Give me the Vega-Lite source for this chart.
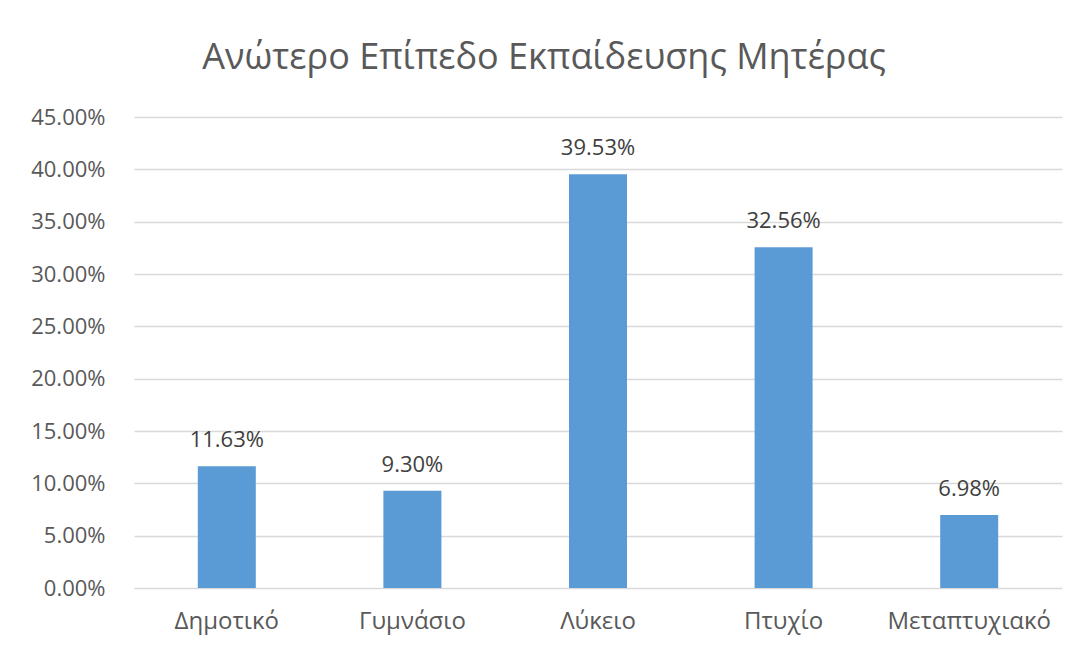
{
  "$schema": "https://vega.github.io/schema/vega-lite/v6.json",
  "width": 928,
  "height": 471,
  "autosize": "none",
  "padding": {"left": 134, "top": 117, "right": 27, "bottom": 67},
  "background": "white",
  "title": {
    "text": "Ανώτερο Επίπεδο Εκπαίδευσης Μητέρας",
    "font": "Open Sans",
    "fontSize": 36,
    "fontWeight": "normal",
    "color": "#595959",
    "anchor": "middle",
    "dx": -54,
    "offset": 29
  },
  "data": {
    "values": [
      {"level": "Δημοτικό", "pct": 0.1163},
      {"level": "Γυμνάσιο", "pct": 0.093},
      {"level": "Λύκειο", "pct": 0.3953},
      {"level": "Πτυχίο", "pct": 0.3256},
      {"level": "Μεταπτυχιακό", "pct": 0.0698}
    ]
  },
  "config": {
    "view": {"stroke": null},
    "font": "Open Sans"
  },
  "encoding": {
    "x": {
      "field": "level",
      "type": "nominal",
      "sort": null,
      "scale": {"paddingInner": 0, "paddingOuter": 0},
      "axis": {
        "title": null,
        "labelAngle": 0,
        "labelFont": "Open Sans",
        "labelFontSize": 24,
        "labelColor": "#595959",
        "labelPadding": 21,
        "ticks": false,
        "domain": false,
        "grid": false
      }
    },
    "y": {
      "field": "pct",
      "type": "quantitative",
      "scale": {"domain": [0, 0.45], "nice": false},
      "axis": {
        "title": null,
        "format": ".2%",
        "values": [0, 0.05, 0.1, 0.15, 0.2, 0.25, 0.3, 0.35, 0.4, 0.45],
        "labelFont": "Open Sans",
        "labelFontSize": 22,
        "labelColor": "#595959",
        "labelPadding": 29,
        "ticks": false,
        "domain": false,
        "grid": true,
        "gridColor": "#d9d9d9",
        "gridWidth": 1.5
      }
    }
  },
  "layer": [
    {
      "mark": {"type": "bar", "width": 58, "color": "#5b9bd5"}
    },
    {
      "mark": {
        "type": "text",
        "font": "Open Sans",
        "fontSize": 22,
        "color": "#404040",
        "baseline": "alphabetic",
        "dy": -19
      },
      "encoding": {
        "text": {"field": "pct", "type": "quantitative", "format": ".2%"}
      }
    }
  ]
}
